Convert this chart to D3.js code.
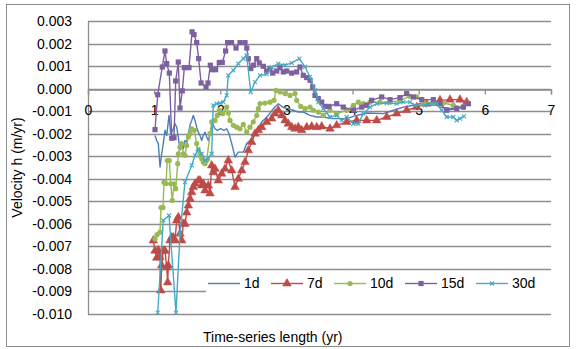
<!DOCTYPE html>
<html><head><meta charset="utf-8">
<script src="https://cdn.jsdelivr.net/npm/d3@7"></script>
<style>html,body{margin:0;padding:0;background:#fff;}svg{display:block;font-family:"Liberation Sans",Arial,sans-serif;}</style>
</head><body>
<svg id="c" width="576" height="349"></svg>
<script>
const xTicks = [0,1,2,3,4,5,6,7];
const yTicks = [0.003,0.002,0.001,0.000,-0.001,-0.002,-0.003,-0.004,-0.005,-0.006,-0.007,-0.008,-0.009,-0.010];
const seriesNames = ["1d","7d","10d","15d","30d"];
const seriesColors = ["#4A7EBB","#BE4B48","#98B954","#7D60A0","#46AAC5"];

// values in units of 0.001 m/yr
const x1d = [1.013,1.039,1.063,1.089,1.114,1.138,1.164,1.190,1.225,1.250,1.281,1.315,1.341,1.365,1.391,1.417,1.441,1.466,1.492,1.517,1.542,1.568,1.592,1.618,1.643,1.668,1.693,1.719,1.743,1.769,1.795,1.819,1.845,1.885,1.920,1.955,2.006,2.056,2.097,2.132,2.173,2.223,2.272,2.348,2.399,2.449,2.525,2.626,2.726,2.802,2.877,2.953,3.028,3.104,3.180,3.255,3.357,3.458,3.558,3.704,3.911,4.011,4.214,4.465,4.616,4.767,4.918,5.020,5.221,5.322,5.523,5.675,5.726];
const v1d = [-2.08,-2.30,-2.44,-3.48,-2.89,-2.44,-1.85,-2.08,-1.19,-2.00,-1.85,-1.56,-1.71,-2.15,-2.74,-2.44,-2.67,-2.30,-2.37,-2.00,-1.63,-1.41,-1.19,-1.41,-1.71,-1.93,-2.08,-2.30,-2.08,-1.93,-2.15,-2.30,-2.00,-1.56,-1.78,-1.85,-1.78,-1.85,-1.78,-2.00,-2.44,-3.04,-2.82,-2.82,-2.44,-2.30,-2.00,-1.48,-1.19,-0.89,-0.67,-0.84,-0.89,-0.96,-1.04,-1.04,-1.19,-1.26,-1.26,-1.33,-1.33,-1.23,-1.08,-1.11,-0.96,-0.82,-0.74,-0.67,-0.64,-0.82,-0.89,-0.82,-0.67];

const x7d = [0.987,1.013,1.039,1.063,1.089,1.101,1.114,1.138,1.164,1.190,1.205,1.214,1.240,1.266,1.290,1.315,1.341,1.365,1.391,1.417,1.441,1.466,1.492,1.517,1.542,1.568,1.592,1.618,1.668,1.693,1.719,1.743,1.769,1.819,1.845,1.870,1.894,1.920,1.970,2.021,2.071,2.121,2.173,2.223,2.272,2.324,2.374,2.424,2.475,2.525,2.575,2.626,2.702,2.777,2.827,2.877,2.929,2.979,3.028,3.080,3.130,3.180,3.231,3.307,3.382,3.458,3.533,3.659,3.760,3.911,4.063,4.214,4.365,4.516,4.667,4.819,4.970,5.121,5.221,5.322,5.473,5.624,5.726];
const v7d = [-6.74,-7.19,-7.51,-7.16,-7.48,-8.96,-7.85,-7.19,-7.19,-7.93,-8.60,-7.85,-6.74,-6.60,-6.60,-6.74,-5.85,-5.71,-6.44,-6.74,-6.00,-6.00,-5.50,-5.19,-4.89,-4.60,-4.37,-4.22,-4.08,-4.08,-4.30,-4.22,-4.52,-4.30,-4.65,-3.41,-3.71,-3.56,-4.08,-3.78,-3.56,-3.19,-3.63,-4.37,-4.00,-3.63,-3.26,-2.74,-2.37,-2.00,-1.85,-1.71,-1.48,-1.33,-1.11,-0.96,-1.19,-1.41,-1.56,-1.71,-1.78,-1.71,-1.85,-1.71,-1.68,-1.71,-1.68,-1.78,-1.63,-1.48,-1.41,-1.41,-1.41,-1.26,-1.11,-0.96,-0.82,-0.67,-0.64,-0.52,-0.49,-0.49,-0.60];

const x10d = [1.013,1.043,1.089,1.104,1.134,1.149,1.179,1.199,1.229,1.250,1.275,1.300,1.326,1.356,1.365,1.391,1.417,1.441,1.466,1.492,1.517,1.542,1.568,1.607,1.643,1.668,1.693,1.719,1.743,1.769,1.795,1.845,1.870,1.920,1.955,1.985,2.037,2.097,2.121,2.147,2.197,2.248,2.298,2.348,2.399,2.449,2.499,2.551,2.575,2.601,2.676,2.752,2.812,2.842,2.903,2.979,3.054,3.130,3.155,3.216,3.281,3.357,3.406,3.482,3.558,3.659,3.760,3.911,4.011,4.087,4.162,4.264,4.415,4.566,4.717,4.868,4.970,5.070,5.221,5.372,5.523,5.675,5.750];
const v10d = [-6.67,-6.48,-6.37,-5.28,-5.28,-4.16,-4.21,-3.19,-3.19,-4.22,-4.96,-4.22,-4.44,-3.33,-2.89,-2.60,-2.44,-2.89,-2.96,-2.52,-2.15,-2.00,-1.78,-1.85,-2.44,-2.74,-2.96,-3.11,-3.26,-3.33,-3.19,-2.00,-1.48,-1.41,-1.19,-0.96,-1.11,-0.82,-1.08,-1.41,-1.63,-1.71,-1.78,-1.59,-1.93,-1.71,-1.48,-1.19,-0.89,-0.67,-0.64,-0.60,-0.52,-0.08,-0.15,-0.22,-0.30,-0.22,-0.52,-0.79,-0.89,-0.82,-0.96,-1.04,-1.19,-0.96,-1.11,-0.96,-0.74,-0.60,-0.67,-0.60,-0.60,-0.60,-0.52,-0.34,-0.37,-0.60,-0.64,-0.64,-0.74,-0.82,-0.64];

const x15d = [1.013,1.054,1.123,1.164,1.190,1.229,1.266,1.300,1.326,1.365,1.391,1.426,1.456,1.527,1.573,1.603,1.643,1.673,1.710,1.784,1.814,1.849,1.879,1.930,1.985,2.030,2.081,2.111,2.171,2.238,2.298,2.374,2.400,2.424,2.461,2.500,2.551,2.590,2.651,2.701,2.752,2.792,2.853,2.903,2.953,3.004,3.079,3.155,3.205,3.255,3.306,3.357,3.397,3.432,3.482,3.533,3.583,3.644,3.760,3.860,4.012,4.138,4.213,4.289,4.440,4.566,4.717,4.818,4.919,5.045,5.221,5.322,5.423,5.574,5.675,5.750];
const v15d = [-1.82,-0.27,0.96,1.67,1.11,0.69,-2.20,-2.18,0.34,1.18,-0.86,-0.10,0.93,0.93,2.52,2.40,2.04,1.33,0.25,0.07,0.25,1.04,0.84,0.84,1.16,1.16,1.67,2.04,2.04,1.80,2.04,2.04,1.80,1.33,0.89,1.04,1.33,1.14,0.99,0.78,0.87,0.69,0.78,0.93,0.74,0.78,0.69,0.74,0.96,0.59,0.49,0.37,0.07,-0.30,-0.44,-0.60,-0.79,-0.79,-0.67,-0.82,-0.96,-0.82,-0.74,-0.52,-0.37,-0.49,-0.40,-0.22,-0.37,-0.49,-0.49,-0.67,-0.96,-0.89,-0.82,-0.67];

const x30d = [1.054,1.138,1.225,1.330,1.391,1.466,1.568,1.618,1.668,1.719,1.769,1.819,1.870,1.894,1.946,1.996,2.046,2.097,2.121,2.197,2.272,2.348,2.399,2.460,2.525,2.601,2.702,2.777,2.877,2.979,3.080,3.195,3.281,3.357,3.432,3.482,3.558,3.659,3.760,3.836,3.911,4.011,4.087,4.162,4.264,4.365,4.516,4.667,4.767,4.868,4.944,5.095,5.197,5.272,5.348,5.423,5.523,5.574,5.624,5.685];
const v30d = [-9.94,-5.85,-5.63,-9.94,-6.44,-4.15,-3.41,-2.96,-2.67,-2.89,-3.19,-3.11,-2.89,-0.74,-0.67,-0.64,-0.60,-0.30,0.59,0.81,1.11,1.33,1.48,-0.15,0.29,0.59,0.64,0.95,1.11,1.04,1.14,1.33,0.96,0.52,-0.08,-0.60,-0.89,-1.26,-1.19,-1.41,-1.26,-1.56,-1.56,-1.11,-0.82,-0.67,-0.64,-0.67,-0.60,-0.60,-0.74,-0.74,-0.67,-0.67,-0.96,-1.26,-1.26,-1.41,-1.33,-1.23];

const xs = [x1d,x7d,x10d,x15d,x30d];
const vs = [v1d,v7d,v10d,v15d,v30d];
const markers = ["none","triangle","circle","square","x"];

const svg = d3.select("#c");
const x = d3.scaleLinear().domain([0,7]).range([88,551]);
const y = d3.scaleLinear().domain([-0.010,0.003]).range([314,21]);

// chart border
svg.append("rect").attr("x",6.5).attr("y",4.5).attr("width",563).attr("height",342)
  .attr("fill","#fff").attr("stroke","#8c8c8c").attr("stroke-width",1);

// gridlines
svg.append("g").selectAll("line").data(yTicks).join("line")
  .attr("x1",x(0)).attr("x2",x(7))
  .attr("y1",d=>Math.round(y(d))+0.5).attr("y2",d=>Math.round(y(d))+0.5)
  .attr("stroke","#8e8e8e").attr("stroke-width",1.3);

// y axis
const yAxis = d3.axisLeft(y).tickValues(yTicks).tickSize(0).tickPadding(16)
  .tickFormat(d=>d.toFixed(3).replace("-0.000","0.000"));
const gy = svg.append("g").attr("transform",`translate(${x(0)},0)`).call(yAxis);
gy.select(".domain").attr("stroke","#8e8e8e").attr("stroke-width",1.3);
gy.selectAll("text").attr("font-size",14).attr("fill","#000")
  .attr("font-family","'Liberation Sans',Arial,sans-serif");

// x axis at y=0
const xAxis = d3.axisBottom(x).tickValues(xTicks).tickSize(5).tickPadding(16).tickFormat(d3.format("d"));
const gx = svg.append("g").attr("transform",`translate(0,${Math.round(y(0))+0.5})`).call(xAxis);
gx.select(".domain").attr("stroke","#8e8e8e").attr("stroke-width",1.3);
gx.selectAll(".tick line").attr("stroke","#8e8e8e").attr("stroke-width",1.3);
gx.selectAll("text").attr("font-size",14).attr("fill","#000").attr("dy","0.3em")
  .attr("font-family","'Liberation Sans',Arial,sans-serif");

// legend background (hides a gridline)
svg.append("rect").attr("x",206).attr("y",276).attr("width",345).attr("height",19).attr("fill","#fff");

// series
const line = d3.line().x(d=>x(d[0])).y(d=>y(d[1]/1000));
function drawMarker(g, type, color, px, py){
  if(type==="triangle"){
    g.append("path").attr("d",d3.symbol().type(d3.symbolTriangle).size(32)()).attr("transform",`translate(${px},${py})`)
      .attr("fill",color).attr("stroke",color).attr("stroke-width",0.5);
  } else if(type==="circle"){
    g.append("circle").attr("cx",px).attr("cy",py).attr("r",2.6).attr("fill",color);
  } else if(type==="square"){
    g.append("rect").attr("x",px-2.6).attr("y",py-2.6).attr("width",5.2).attr("height",5.2).attr("fill",color);
  } else if(type==="x"){
    g.append("path").attr("d",`M${px-2},${py-2}L${px+2},${py+2}M${px-2},${py+2}L${px+2},${py-2}`)
      .attr("stroke",color).attr("stroke-width",1.1);
  }
}
seriesNames.forEach((name,i)=>{
  const data = xs[i].map((xv,j)=>[xv,vs[i][j]]);
  const g = svg.append("g");
  g.append("path").datum(data).attr("d",line).attr("fill","none")
    .attr("stroke",seriesColors[i]).attr("stroke-width",1.4).attr("stroke-linejoin","round");
  if(markers[i]!=="none") data.forEach(d=>drawMarker(g,markers[i],seriesColors[i],x(d[0]),y(d[1]/1000)));
});

// legend
const legX = [208,271,334,405,476];
const legY = 283.5;
seriesNames.forEach((name,i)=>{
  const g = svg.append("g");
  g.append("line").attr("x1",legX[i]).attr("x2",legX[i]+32).attr("y1",legY).attr("y2",legY)
    .attr("stroke",seriesColors[i]).attr("stroke-width",1.4);
  if(markers[i]!=="none") drawMarker(g,markers[i],seriesColors[i],legX[i]+16,legY);
  g.append("text").attr("x",legX[i]+36).attr("y",legY).attr("dy","0.35em")
    .attr("font-size",14).attr("fill","#000").text(name);
});

// axis titles
svg.append("text").attr("x",203).attr("y",337).attr("dy","0.35em").attr("font-size",14).attr("fill","#000")
  .text("Time-series length  (yr)");
svg.append("text").attr("transform","translate(17,167.5) rotate(-90)").attr("text-anchor","middle")
  .attr("dy","0.35em").attr("font-size",14).attr("fill","#000").text("Velocity h (m/yr)");
</script>
</body></html>
